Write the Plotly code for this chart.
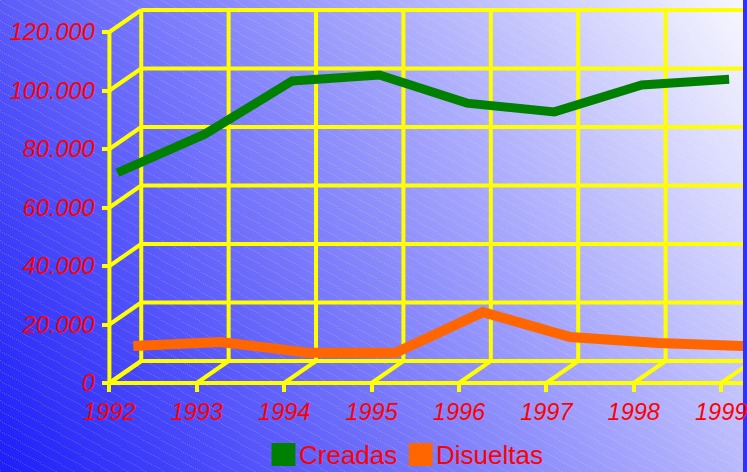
import base64
import struct
import zlib

import numpy as np
import plotly.graph_objects as go

# ---------------- data ----------------
years = [1992, 1993, 1994, 1995, 1996, 1997, 1998, 1999]
creadas = [70000, 83200, 101400, 103400, 93800, 90800, 100000, 102000]
disueltas = [7000, 8400, 4700, 4700, 18600, 10100, 8000, 7000]
y_ticks = [0, 20000, 40000, 60000, 80000, 100000, 120000]
series_names = ["Creadas", "Disueltas"]

# ---------------- style / geometry ----------------
W, H = 747, 472
X_RANGE = [1990.748, 1999.25]
Y_RANGE = [-30427, 130940]
DX = 0.3642      # depth offset in year units
DY = 7521        # depth offset in value units
GREEN = "#008000"
ORANGE = "#ff6600"
YELLOW = "#ffff00"
RED = "#ff0000"
FONT = "Liberation Sans"


# ---------------- background (gradient + hatch) ----------------
def make_bg():
    yy, xx = np.mgrid[0:H, 0:W].astype(float)
    t = (xx * W + (H - 1 - yy) * H) / (W * W + H * H)
    t = np.clip(t, 0, 1)
    c0 = np.array([30, 30, 250], float)
    c1 = np.array([248, 248, 255], float)
    img = c0[None, None, :] + t[..., None] * (c1 - c0)[None, None, :]
    hatch = (np.mod(yy - 0.55 * xx, 10) < 1.0) & (np.mod(xx, 2) == 0)
    a = 0.22
    img[hatch] = img[hatch] * (1 - a) + 255 * a
    arr = np.clip(img, 0, 255).astype(np.uint8)
    raw = b"".join(b"\x00" + arr[r].tobytes() for r in range(H))

    def chunk(tag, data):
        return (struct.pack(">I", len(data)) + tag + data
                + struct.pack(">I", zlib.crc32(tag + data) & 0xFFFFFFFF))

    png = (b"\x89PNG\r\n\x1a\n"
           + chunk(b"IHDR", struct.pack(">IIBBBBB", W, H, 8, 2, 0, 0, 0))
           + chunk(b"IDAT", zlib.compress(raw, 9))
           + chunk(b"IEND", b""))
    return "data:image/png;base64," + base64.b64encode(png).decode()


fig = go.Figure()

# ---------------- 3D grid (yellow) ----------------
shapes = []
gl = dict(color=YELLOW, width=4)
x0 = years[0]
ytop = y_ticks[-1]
# front axes
shapes.append(dict(type="line", xref="x", yref="y", x0=x0, y0=0, x1=x0, y1=ytop, line=gl, layer="below"))
shapes.append(dict(type="line", xref="x", yref="y", x0=x0, y0=0, x1=X_RANGE[1] + 1, y1=0, line=gl, layer="below"))
for v in y_ticks:
    # left wall diagonal
    shapes.append(dict(type="line", xref="x", yref="y", x0=x0, y0=v, x1=x0 + DX, y1=v + DY, line=gl, layer="below"))
    # back wall horizontal
    shapes.append(dict(type="line", xref="x", yref="y", x0=x0 + DX, y0=v + DY, x1=X_RANGE[1] + 1, y1=v + DY, line=gl, layer="below"))
for yr in years:
    # floor diagonal
    shapes.append(dict(type="line", xref="x", yref="y", x0=yr, y0=0, x1=yr + DX, y1=DY, line=gl, layer="below"))
    # back wall vertical
    shapes.append(dict(type="line", xref="x", yref="y", x0=yr + DX, y0=DY, x1=yr + DX, y1=ytop + DY, line=gl, layer="below"))

# ---------------- series ----------------
f_g, f_o = 0.25, 0.75
fig.add_trace(go.Scatter(
    x=[yr + f_g * DX for yr in years], y=[v + f_g * DY for v in creadas],
    mode="lines", name=series_names[0], showlegend=False,
    line=dict(color=GREEN, width=9)))
fig.add_trace(go.Scatter(
    x=[yr + f_o * DX for yr in years], y=[v + f_o * DY for v in disueltas],
    mode="lines", name=series_names[1], showlegend=False,
    line=dict(color=ORANGE, width=10)))

# ---------------- legend (manual) ----------------
annotations = []
leg = [(series_names[0], GREEN, 273, 297, 300), (series_names[1], ORANGE, 411, 435, 437)]
for name, col, sx0, sx1, tx in leg:
    shapes.append(dict(type="rect", xref="paper", yref="paper",
                       x0=sx0 / W, x1=sx1 / W, y0=1 - 466 / H, y1=1 - 443 / H,
                       fillcolor=col, line=dict(width=0), layer="above"))
    annotations.append(dict(text=name, xref="paper", yref="paper", x=tx / W, y=1 - 455 / H,
                            xanchor="left", yanchor="middle", showarrow=False,
                            borderpad=0, font=dict(family=FONT, size=26, color=RED)))

tickfont = dict(family=FONT, size=23.5, color=RED, style="italic")
fig.update_layout(
    width=W, height=H,
    margin=dict(l=0, r=0, t=0, b=0, pad=0),
    paper_bgcolor="#3030f8",
    plot_bgcolor="rgba(0,0,0,0)",
    separators=",.",
    showlegend=False,
    hovermode=False,
    shapes=shapes,
    annotations=annotations,
    images=[dict(source=make_bg(), xref="paper", yref="paper", x=0, y=1,
                 sizex=1, sizey=1, xanchor="left", yanchor="top",
                 sizing="stretch", layer="below")],
    xaxis=dict(range=X_RANGE, domain=[0, 1], anchor="free", position=89 / H,
               tickvals=years, ticktext=[str(y) for y in years],
               ticks="outside", ticklen=8, tickwidth=4, tickcolor=YELLOW,
               ticklabeloverflow="allow",
               showgrid=False, zeroline=False, showline=False, tickfont=tickfont),
    yaxis=dict(range=Y_RANGE, domain=[0, 1], anchor="free", position=110 / W,
               tickvals=y_ticks, tickformat=",",
               ticks="outside", ticklen=7, tickwidth=4, tickcolor=YELLOW,
               ticklabelstandoff=3, ticklabeloverflow="allow",
               showgrid=False, zeroline=False, showline=False, tickfont=tickfont),
)

fig.write_html("out.html", config={"displayModeBar": False, "staticPlot": True},
               post_script="document.body.style.margin='0';document.body.style.overflow='hidden';")
